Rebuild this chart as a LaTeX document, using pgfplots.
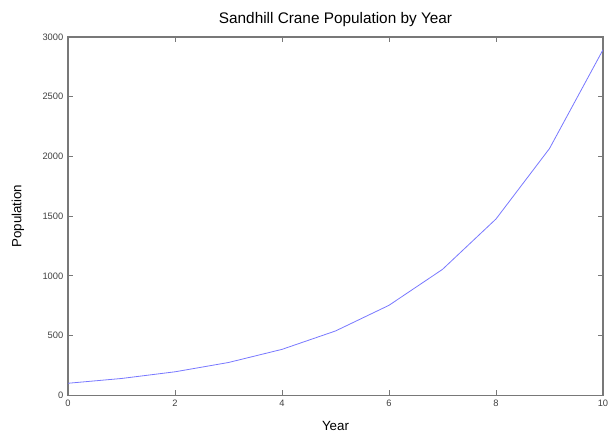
\documentclass[border=0pt]{standalone}
\usepackage{pgfplots}
\pgfplotsset{compat=1.18}
\usepackage{fontspec}
\setmainfont{Liberation Sans}
\definecolor{axgray}{RGB}{120,120,120}
\definecolor{linblue}{RGB}{120,120,255}
\begin{document}
\begin{tikzpicture}
\begin{axis}[
  scale only axis,
  width=401pt, height=268.5pt,
  xmin=0, xmax=10, ymin=0, ymax=3000,
  xtick={0,2,4,6,8,10},
  ytick={0,500,1000,1500,2000,2500,3000},
  tick align=inside,
  major tick length=4pt,
  axis line style={axgray, line width=0.9pt},
  every tick/.style={axgray, line width=0.6pt},
  tick label style={font=\fontsize{7}{8}\selectfont, text=black!75},
  /pgf/number format/assume math mode=true,
  scaled y ticks=false,
  yticklabel style={/pgf/number format/1000 sep={}},
  title={Sandhill Crane Population by Year},
  title style={font=\fontsize{11.5}{13}\selectfont, yshift=-2pt},
  xlabel={Year},
  ylabel={Population},
  label style={font=\fontsize{10}{12}\selectfont},
  xlabel style={yshift=-4.5pt},
  ylabel style={yshift=7pt},
]
\addplot[linblue, line width=0.6pt] coordinates {
(0,100) (1,140) (2,196) (3,274) (4,384) (5,538) (6,753) (7,1054) (8,1476) (9,2066) (10,2893)
};
\end{axis}
\path (current axis.south west) ++(-51pt,-27.75pt) coordinate (bl);
\path (current axis.north east) ++(9pt,27.75pt) coordinate (tr);
\path (bl) rectangle (tr);
\end{tikzpicture}
\end{document}
